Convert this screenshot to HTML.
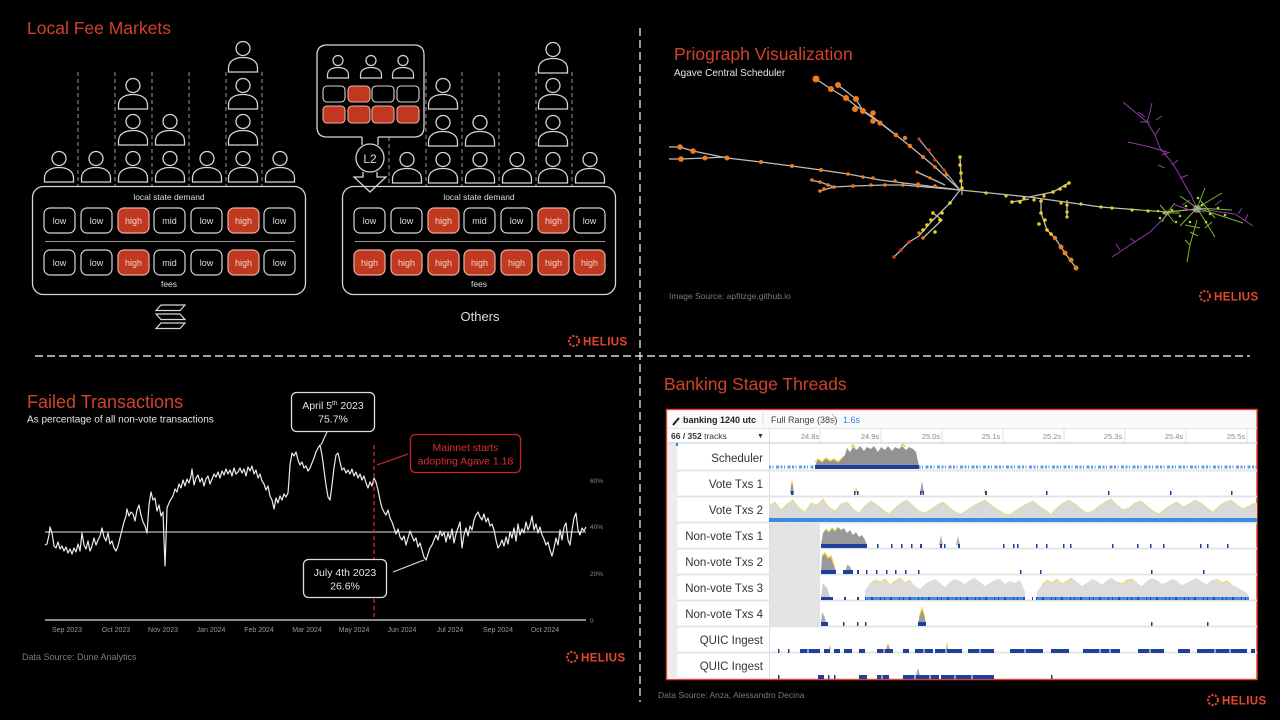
<!DOCTYPE html>
<html><head><meta charset="utf-8">
<style>
html,body{margin:0;padding:0;background:#000;}
svg{display:block;font-family:"Liberation Sans",sans-serif;}
</style></head><body>
<svg width="1280" height="720" viewBox="0 0 1280 720" xmlns="http://www.w3.org/2000/svg">
<rect width="1280" height="720" fill="#000"/>
<defs>
<g id="p" fill="none" stroke="#d6d6d6" stroke-width="1.3"><circle cx="0" cy="7.5" r="7"/><path d="M-14.5,31 L-14.5,27 C-14.5,20 -8,16.5 0,16.5 C8,16.5 14.5,20 14.5,27 L14.5,31 Z"/></g>
<g id="ps" fill="none" stroke="#d6d6d6" stroke-width="1.2"><circle cx="0" cy="5.5" r="5"/><path d="M-10.5,23 L-10.5,20 C-10.5,15 -6,12.5 0,12.5 C6,12.5 10.5,15 10.5,20 L10.5,23 Z"/></g>
</defs>

<!-- separators -->
<line x1="640" y1="28" x2="640" y2="702" stroke="#fff" stroke-width="1.2" stroke-dasharray="8,4"/>
<line x1="35" y1="356" x2="1250" y2="356" stroke="#fff" stroke-width="1.2" stroke-dasharray="8,4"/>

<!-- ============ TOP LEFT ============ -->
<text x="27" y="34" font-size="17.5" fill="#d2422a">Local Fee Markets</text>

<g stroke="#9a9a9a" stroke-width="1" stroke-dasharray="4,3">
<line x1="78" y1="72" x2="78" y2="186"/><line x1="115" y1="72" x2="115" y2="186"/><line x1="152" y1="72" x2="152" y2="186"/>
<line x1="189" y1="72" x2="189" y2="186"/><line x1="226" y1="72" x2="226" y2="186"/><line x1="262" y1="72" x2="262" y2="186"/>
<line x1="389" y1="137" x2="389" y2="186"/><line x1="426" y1="72" x2="426" y2="186"/><line x1="462" y1="72" x2="462" y2="186"/>
<line x1="499" y1="72" x2="499" y2="186"/><line x1="536" y1="72" x2="536" y2="186"/><line x1="572" y1="72" x2="572" y2="186"/>
</g>

<use href="#p" x="59" y="151"/><use href="#p" x="96" y="151"/>
<use href="#p" x="133" y="78"/><use href="#p" x="133" y="114"/><use href="#p" x="133" y="151"/>
<use href="#p" x="170" y="114"/><use href="#p" x="170" y="151"/>
<use href="#p" x="207" y="151"/>
<use href="#p" x="243" y="41"/><use href="#p" x="243" y="78"/><use href="#p" x="243" y="114"/><use href="#p" x="243" y="151"/>
<use href="#p" x="280" y="151"/>

<use href="#p" x="407" y="152"/>
<use href="#p" x="443" y="78"/><use href="#p" x="443" y="115"/><use href="#p" x="443" y="152"/>
<use href="#p" x="480" y="115"/><use href="#p" x="480" y="152"/>
<use href="#p" x="517" y="152"/>
<use href="#p" x="553" y="42"/><use href="#p" x="553" y="78"/><use href="#p" x="553" y="115"/><use href="#p" x="553" y="152"/>
<use href="#p" x="590" y="152"/>

<rect x="32.5" y="186.5" width="273" height="108" rx="11" fill="#000" stroke="#d6d6d6" stroke-width="1.3"/>
<text x="169" y="200" font-size="8.5" fill="#ddd" text-anchor="middle">local state demand</text>
<line x1="45" y1="241.5" x2="295" y2="241.5" stroke="#999" stroke-width="1"/>
<text x="169" y="287" font-size="8.5" fill="#ddd" text-anchor="middle">fees</text>
<g stroke="#d6d6d6" stroke-width="1.2">
<rect x="44" y="208" width="31" height="25" rx="6" fill="#000"/><rect x="81" y="208" width="31" height="25" rx="6" fill="#000"/>
<rect x="118" y="208" width="31" height="25" rx="6" fill="#c0381f" stroke="#e9b0a4"/><rect x="154" y="208" width="31" height="25" rx="6" fill="#000"/>
<rect x="191" y="208" width="31" height="25" rx="6" fill="#000"/><rect x="228" y="208" width="31" height="25" rx="6" fill="#c0381f" stroke="#e9b0a4"/>
<rect x="264" y="208" width="31" height="25" rx="6" fill="#000"/>
<rect x="44" y="250" width="31" height="25" rx="6" fill="#000"/><rect x="81" y="250" width="31" height="25" rx="6" fill="#000"/>
<rect x="118" y="250" width="31" height="25" rx="6" fill="#c0381f" stroke="#e9b0a4"/><rect x="154" y="250" width="31" height="25" rx="6" fill="#000"/>
<rect x="191" y="250" width="31" height="25" rx="6" fill="#000"/><rect x="228" y="250" width="31" height="25" rx="6" fill="#c0381f" stroke="#e9b0a4"/>
<rect x="264" y="250" width="31" height="25" rx="6" fill="#000"/>
</g>
<g font-size="9" text-anchor="middle" fill="#ddd">
<text x="59.5" y="224">low</text><text x="96.5" y="224">low</text><text x="133.5" y="224" fill="#f3d6cf">high</text><text x="169.5" y="224">mid</text><text x="206.5" y="224">low</text><text x="243.5" y="224" fill="#f3d6cf">high</text><text x="279.5" y="224">low</text>
<text x="59.5" y="266">low</text><text x="96.5" y="266">low</text><text x="133.5" y="266" fill="#f3d6cf">high</text><text x="169.5" y="266">mid</text><text x="206.5" y="266">low</text><text x="243.5" y="266" fill="#f3d6cf">high</text><text x="279.5" y="266">low</text>
</g>

<g fill="none" stroke="#d6d6d6" stroke-width="1.2">
<path d="M161,305 L185,305 L180,310.5 L156,310.5 Z"/>
<path d="M156,314 L180,314 L185,319.5 L161,319.5 Z"/>
<path d="M161,323 L185,323 L180,328.5 L156,328.5 Z"/>
</g>

<rect x="342.5" y="186.5" width="273" height="108" rx="11" fill="#000" stroke="#d6d6d6" stroke-width="1.3"/>
<text x="479" y="200" font-size="8.5" fill="#ddd" text-anchor="middle">local state demand</text>
<line x1="355" y1="241.5" x2="605" y2="241.5" stroke="#999" stroke-width="1"/>
<text x="479" y="287" font-size="8.5" fill="#ddd" text-anchor="middle">fees</text>
<g stroke="#d6d6d6" stroke-width="1.2">
<rect x="354" y="208" width="31" height="25" rx="6" fill="#000"/><rect x="391" y="208" width="31" height="25" rx="6" fill="#000"/>
<rect x="428" y="208" width="31" height="25" rx="6" fill="#c0381f" stroke="#e9b0a4"/><rect x="464" y="208" width="31" height="25" rx="6" fill="#000"/>
<rect x="501" y="208" width="31" height="25" rx="6" fill="#000"/><rect x="538" y="208" width="31" height="25" rx="6" fill="#c0381f" stroke="#e9b0a4"/>
<rect x="574" y="208" width="31" height="25" rx="6" fill="#000"/>
</g>
<g fill="#c0381f" stroke="#e9b0a4" stroke-width="1.2">
<rect x="354" y="250" width="31" height="25" rx="6"/><rect x="391" y="250" width="31" height="25" rx="6"/>
<rect x="428" y="250" width="31" height="25" rx="6"/><rect x="464" y="250" width="31" height="25" rx="6"/>
<rect x="501" y="250" width="31" height="25" rx="6"/><rect x="538" y="250" width="31" height="25" rx="6"/>
<rect x="574" y="250" width="31" height="25" rx="6"/>
</g>
<g font-size="9" text-anchor="middle" fill="#ddd">
<text x="369.5" y="224">low</text><text x="406.5" y="224">low</text><text x="443.5" y="224" fill="#f3d6cf">high</text><text x="479.5" y="224">mid</text><text x="516.5" y="224">low</text><text x="553.5" y="224" fill="#f3d6cf">high</text><text x="589.5" y="224">low</text>
</g>
<g font-size="9" text-anchor="middle" fill="#f3d6cf">
<text x="369.5" y="266">high</text><text x="406.5" y="266">high</text><text x="443.5" y="266">high</text><text x="479.5" y="266">high</text><text x="516.5" y="266">high</text><text x="553.5" y="266">high</text><text x="589.5" y="266">high</text>
</g>
<text x="480" y="321" font-size="13" fill="#ddd" text-anchor="middle">Others</text>

<path d="M362,137 L327,137 Q317,137 317,127 L317,55 Q317,45 327,45 L414,45 Q424,45 424,55 L424,127 Q424,137 414,137 L378,137" fill="none" stroke="#d6d6d6" stroke-width="1.3"/>
<line x1="362" y1="137" x2="362" y2="145" stroke="#d6d6d6" stroke-width="1.3"/>
<line x1="378" y1="137" x2="378" y2="145" stroke="#d6d6d6" stroke-width="1.3"/>
<use href="#ps" x="338" y="55"/><use href="#ps" x="371" y="55"/><use href="#ps" x="403" y="55"/>
<g stroke="#d6d6d6" stroke-width="1.1">
<rect x="323" y="86" width="22" height="16" rx="4" fill="#000"/><rect x="348" y="86" width="22" height="16" rx="4" fill="#c0381f" stroke="#e9b0a4"/>
<rect x="372" y="86" width="22" height="16" rx="4" fill="#000"/><rect x="397" y="86" width="22" height="16" rx="4" fill="#000"/>
<rect x="323" y="106" width="22" height="17" rx="4" fill="#c0381f" stroke="#e9b0a4"/><rect x="348" y="106" width="22" height="17" rx="4" fill="#c0381f" stroke="#e9b0a4"/>
<rect x="372" y="106" width="22" height="17" rx="4" fill="#c0381f" stroke="#e9b0a4"/><rect x="397" y="106" width="22" height="17" rx="4" fill="#c0381f" stroke="#e9b0a4"/>
</g>
<circle cx="370" cy="158" r="14" fill="#000" stroke="#d6d6d6" stroke-width="1.3"/>
<text x="370" y="163" font-size="12" fill="#ddd" text-anchor="middle">L2</text>
<path d="M363,172 L363,177 L354,177 L370,192 L386,177 L377,177 L377,172" fill="none" stroke="#d6d6d6" stroke-width="1.3"/>

<circle cx="574" cy="341" r="5" fill="none" stroke="#e4472b" stroke-width="2" stroke-dasharray="2.2,1.4"/>
<text x="583" y="345.5" font-size="11.5" font-weight="bold" fill="#e4472b" letter-spacing="0.4">HELIUS</text>

<!-- ============ TOP RIGHT ============ -->
<text x="674" y="60" font-size="17.5" fill="#d2422a">Priograph Visualization</text>
<text x="674" y="76" font-size="10" fill="#e6e6e6">Agave Central Scheduler</text>
<text x="669" y="299" font-size="8.5" fill="#7a7a7a">Image Source: apfitzge.github.io</text>
<circle cx="1205" cy="296" r="5" fill="none" stroke="#e4472b" stroke-width="2" stroke-dasharray="2.2,1.4"/>
<text x="1214" y="300.5" font-size="11.5" font-weight="bold" fill="#e4472b" letter-spacing="0.4">HELIUS</text>

<g fill="none" stroke="#bdbdbd" stroke-width="1.3">
<polyline points="669,147 680,147 693,151 727,158 761,162 792,166 821,170 848,174 880,180 920,185 960,190"/>
<polyline points="669,159 681,159 705,158 727,157"/>
<polyline points="816,79 831,89 846,98 856,106 873,117 896,135 910,146 935,167 960,190"/>
<polyline points="838,85 856,99 863,111 880,123 896,135"/>
<polyline points="810,180 820,182 834,187 853,186 885,185 903,185 960,190"/>
<polyline points="820,191 834,187"/>
<polyline points="919,139 944,170 960,190" stroke="#aaa"/>
<polyline points="917,172 945,185"/>
<polyline points="960,157 962,195"/>
<polyline points="960,190 950,203 940,213 931,222 919,236 909,242 894,257"/>
<polyline points="960,190 1029,197 1101,207 1140,210"/>
<polyline points="1029,197 1053,192 1069,183"/>
<polyline points="1041,201 1041,213 1047,230 1055,238 1065,253 1076,268"/>
<polyline points="1067,200 1067,217"/>
<polyline points="1012,202 1029,199"/>
<polyline points="933,213 942,220 923,238"/>
</g>
<polyline fill="none" stroke="#a8b840" stroke-width="1.2" points="1140,210 1167,212 1197,209"/>
<g fill="none" stroke="#8c3ca6" stroke-width="1">
<polyline points="1123,102 1135,112 1147,122 1155,135 1160,148 1170,160 1178,172 1185,185 1192,197 1197,208"/>
<polyline points="1152,103 1150,112 1147,122"/>
<polyline points="1128,142 1150,147 1167,152"/>
<polyline points="1197,208 1220,212 1235,214 1253,226"/>
<polyline points="1112,257 1130,245 1150,232 1167,215"/>
<polyline points="1140,122 1150,122"/><polyline points="1156,120 1162,116"/><polyline points="1155,135 1160,128"/>
<polyline points="1162,155 1170,152"/><polyline points="1172,165 1178,160"/><polyline points="1180,178 1188,175"/>
<polyline points="1145,117 1138,112"/><polyline points="1165,168 1158,165"/><polyline points="1190,200 1182,205"/>
<polyline points="1175,205 1190,210 1205,212"/><polyline points="1238,214 1242,208"/><polyline points="1245,220 1248,214"/>
<polyline points="1120,250 1116,244"/><polyline points="1135,242 1130,238"/><polyline points="1215,205 1222,200"/>
</g>
<g fill="none" stroke="#7cb82e" stroke-width="1">
<polyline points="1187,262 1190,245 1197,220"/>
<polyline points="1197,208 1215,237"/><polyline points="1197,208 1222,193"/><polyline points="1197,208 1232,210"/>
<polyline points="1197,208 1243,223"/><polyline points="1197,208 1180,196"/><polyline points="1197,208 1205,188"/>
<polyline points="1197,208 1180,226"/><polyline points="1185,225 1200,228"/><polyline points="1200,200 1215,218"/>
<polyline points="1167,213 1160,205"/><polyline points="1167,213 1175,203"/><polyline points="1167,213 1162,222"/>
<polyline points="1167,213 1174,222"/><polyline points="1167,213 1180,213"/><polyline points="1190,245 1185,240"/>
<polyline points="1205,228 1212,222"/><polyline points="1190,232 1198,236"/>
</g>
<circle cx="1197" cy="209" r="4" fill="#bbb" opacity="0.6"/>
<circle cx="1167" cy="213" r="2.5" fill="#bbb" opacity="0.5"/>
<g fill="#f07d1c">
<circle cx="816" cy="79" r="3.5"/><circle cx="831" cy="89" r="3"/><circle cx="838" cy="85" r="3"/><circle cx="846" cy="98" r="3"/>
<circle cx="856" cy="99" r="3"/><circle cx="855" cy="109" r="3"/><circle cx="863" cy="111" r="3"/><circle cx="873" cy="113" r="2.8"/>
<circle cx="873" cy="121" r="2.8"/><circle cx="880" cy="123" r="2.6"/><circle cx="896" cy="135" r="2.3"/><circle cx="905" cy="138" r="2.2"/>
<circle cx="910" cy="146" r="2.2"/><circle cx="923" cy="157" r="2"/><circle cx="935" cy="167" r="1.8"/><circle cx="946" cy="175" r="1.8"/>
<circle cx="680" cy="147" r="2.8"/><circle cx="693" cy="151" r="2.8"/><circle cx="681" cy="159" r="2.8"/><circle cx="705" cy="158" r="2.5"/>
<circle cx="727" cy="158" r="2.5"/><circle cx="761" cy="162" r="2"/><circle cx="792" cy="166" r="2"/><circle cx="821" cy="170" r="2"/>
<circle cx="848" cy="174" r="1.8"/><circle cx="863" cy="177" r="1.8"/><circle cx="873" cy="178" r="1.8"/><circle cx="895" cy="181" r="1.8"/>
<circle cx="918" cy="184" r="1.8"/><circle cx="935" cy="186" r="1.8"/>
<circle cx="812" cy="180" r="1.8"/><circle cx="820" cy="182" r="1.8"/><circle cx="828" cy="185" r="1.8"/><circle cx="834" cy="187" r="1.8"/>
<circle cx="820" cy="191" r="1.8"/><circle cx="824" cy="189" r="1.8"/><circle cx="853" cy="186" r="1.8"/><circle cx="871" cy="185" r="1.8"/>
<circle cx="885" cy="185" r="1.8"/><circle cx="903" cy="185" r="1.8"/><circle cx="918" cy="186" r="1.8"/>
<circle cx="917" cy="172" r="1.6"/><circle cx="930" cy="178" r="1.6"/>
<circle cx="1055" cy="238" r="2.2"/><circle cx="1061" cy="247" r="2.5"/><circle cx="1065" cy="253" r="2.5"/><circle cx="1071" cy="260" r="2.5"/><circle cx="1076" cy="268" r="2.5"/>
<circle cx="919" cy="233" r="1.7"/><circle cx="923" cy="238" r="1.7"/>
</g>
<g fill="#e0381a">
<circle cx="919" cy="139" r="1.6"/><circle cx="929" cy="150" r="1.6"/><circle cx="935" cy="160" r="1.6"/><circle cx="944" cy="170" r="1.6"/>
<circle cx="909" cy="242" r="1.7"/><circle cx="901" cy="250" r="1.7"/><circle cx="894" cy="257" r="1.7"/>
</g>
<g fill="#e8d21e">
<circle cx="960" cy="157" r="1.8"/><circle cx="960" cy="165" r="1.8"/><circle cx="961" cy="173" r="1.8"/><circle cx="961" cy="181" r="1.8"/><circle cx="962" cy="188" r="1.8"/>
<circle cx="950" cy="203" r="1.8"/><circle cx="942" cy="213" r="1.8"/><circle cx="933" cy="213" r="1.8"/><circle cx="931" cy="220" r="1.8"/>
<circle cx="940" cy="220" r="1.8"/><circle cx="927" cy="225" r="1.8"/><circle cx="923" cy="230" r="1.8"/><circle cx="935" cy="232" r="1.8"/>
<circle cx="986" cy="193" r="1.6"/><circle cx="1006" cy="196" r="1.6"/><circle cx="1024" cy="198" r="1.6"/><circle cx="1041" cy="201" r="1.8"/>
<circle cx="1061" cy="203" r="1.6"/><circle cx="1081" cy="204" r="1.6"/><circle cx="1101" cy="207" r="1.6"/><circle cx="1112" cy="208" r="1.6"/>
<circle cx="1132" cy="210" r="1.6"/><circle cx="1148" cy="211" r="1.6"/><circle cx="1020" cy="202" r="1.8"/><circle cx="1012" cy="202" r="1.8"/>
<circle cx="1053" cy="192" r="1.8"/><circle cx="1060" cy="189" r="1.8"/><circle cx="1065" cy="186" r="1.8"/><circle cx="1069" cy="183" r="1.8"/>
<circle cx="1041" cy="213" r="1.8"/><circle cx="1045" cy="220" r="1.8"/><circle cx="1039" cy="224" r="1.8"/><circle cx="1047" cy="230" r="1.8"/>
<circle cx="1051" cy="234" r="1.8"/><circle cx="1067" cy="205" r="1.6"/><circle cx="1067" cy="212" r="1.6"/><circle cx="1067" cy="217" r="1.6"/>
<circle cx="1034" cy="200" r="1.6"/><circle cx="1044" cy="196" r="1.6"/>
</g>
<g fill="#b6d034">
<circle cx="1164" cy="213" r="1.3"/><circle cx="1172" cy="210" r="1.3"/><circle cx="1180" cy="216" r="1.3"/><circle cx="1186" cy="206" r="1.3"/>
<circle cx="1202" cy="205" r="1.3"/><circle cx="1210" cy="214" r="1.3"/><circle cx="1218" cy="208" r="1.3"/><circle cx="1206" cy="222" r="1.3"/>
<circle cx="1190" cy="222" r="1.3"/><circle cx="1176" cy="222" r="1.3"/><circle cx="1225" cy="215" r="1.3"/><circle cx="1198" cy="198" r="1.3"/>
<circle cx="1158" cy="211" r="1.3"/><circle cx="1160" cy="218" r="1.3"/>
</g>

<!-- ============ BOTTOM LEFT ============ -->
<text x="27" y="408" font-size="18" fill="#d2422a">Failed Transactions</text>
<text x="27" y="422.5" font-size="10" fill="#e6e6e6">As percentage of all non-vote transactions</text>

<line x1="45" y1="532" x2="586" y2="532" stroke="#b8b8b8" stroke-width="1.2"/>
<line x1="45" y1="620" x2="586" y2="620" stroke="#8a8a8a" stroke-width="2"/>
<g font-size="6.5" fill="#8a8a8a">
<text x="590" y="483">60%</text><text x="590" y="529">40%</text><text x="590" y="576">20%</text><text x="590" y="623">0</text>
</g>
<g font-size="7" fill="#9a9a9a" text-anchor="middle">
<text x="67" y="632">Sep 2023</text><text x="116" y="632">Oct 2023</text><text x="163" y="632">Nov 2023</text><text x="211" y="632">Jan 2024</text>
<text x="259" y="632">Feb 2024</text><text x="307" y="632">Mar 2024</text><text x="354" y="632">May 2024</text><text x="402" y="632">Jun 2024</text>
<text x="450" y="632">Jul 2024</text><text x="498" y="632">Sep 2024</text><text x="545" y="632">Oct 2024</text>
</g>

<polyline fill="none" stroke="#ececec" stroke-width="1.2" stroke-linejoin="round" points="45,545 47,544 49,535 50,527 52,533 54,546 56,548 58,542 60,549 62,546 64,551 66,547 68,553 70,549 72,554 74,548 76,552 78,544 80,551 82,533 84,545 86,549 88,541 90,551 92,546 94,538 96,545 98,540 100,536 102,528 104,537 106,541 108,533 110,544 112,541 114,548 116,551 118,546 120,538 122,530 124,522 126,516 127,509 129,516 131,512 133,514 135,521 137,510 139,505 141,515 143,522 145,526 147,533 149,505 151,492 153,500 155,498 157,511 159,505 161,516 163,512 164,540 165,566 166,540 167,508 169,503 171,499 173,496 175,489 177,492 179,484 181,488 183,480 185,486 187,479 189,483 191,476 192,469 194,485 196,478 198,475 200,482 202,478 204,486 206,479 208,476 210,484 212,479 214,474 216,477 218,472 220,478 222,471 224,475 226,469 228,474 230,470 232,476 234,468 236,474 238,472 240,468 242,473 244,469 246,476 248,467 250,471 252,466 254,474 256,470 258,478 260,474 262,481 264,484 266,490 268,486 270,496 272,500 274,509 276,498 278,503 280,496 282,500 284,494 286,497 288,493 289,480 290,465 292,453 294,456 296,452 298,460 300,465 302,462 304,468 306,466 308,471 310,468 312,463 314,458 316,452 318,448 320,445 322,455 324,470 326,485 328,497 330,500 332,485 334,468 336,455 338,453 340,462 342,470 344,468 346,473 348,470 350,474 352,469 354,476 356,472 358,478 360,474 362,480 364,476 366,483 368,488 370,482 372,486 374,478 376,482 378,490 380,500 382,508 384,512 386,515 388,510 390,518 392,522 394,528 396,534 398,529 400,537 402,540 404,536 406,545 408,538 410,531 412,536 414,541 416,538 418,547 420,543 422,550 424,557 426,560 428,554 430,548 432,545 434,540 436,535 438,540 440,531 442,536 444,532 446,542 448,533 450,539 452,529 454,543 456,534 458,528 460,522 462,548 464,535 466,528 468,536 470,526 472,530 474,520 476,515 478,512 480,517 482,520 484,514 486,522 488,518 490,526 492,524 494,530 496,540 498,548 500,545 502,540 504,546 506,537 508,544 510,532 512,538 514,528 516,541 518,524 520,535 522,529 524,533 526,522 528,530 530,525 532,516 534,530 536,524 538,533 540,527 542,535 544,539 546,545 548,542 550,550 552,556 554,548 556,538 558,545 560,530 562,540 564,527 566,523 568,540 570,545 572,530 574,518 576,513 578,530 580,535 582,528 584,531 586,527"/>

<line x1="374" y1="445" x2="374" y2="620" stroke="#e02222" stroke-width="1.3" stroke-dasharray="4,3"/>
<line x1="408" y1="454" x2="377" y2="465" stroke="#d02222" stroke-width="1.2"/>
<rect x="410.5" y="434.5" width="110" height="38" rx="5" fill="#000" stroke="#c82222" stroke-width="1.3"/>
<text x="465.5" y="451" font-size="10.5" fill="#d83030" text-anchor="middle">Mainnet starts</text>
<text x="465.5" y="464.5" font-size="10.5" fill="#d83030" text-anchor="middle">adopting Agave 1.18</text>

<line x1="327" y1="432" x2="321" y2="445" stroke="#ddd" stroke-width="1.2"/>
<rect x="291.5" y="392.5" width="83" height="39" rx="5" fill="#000" stroke="#ddd" stroke-width="1.3"/>
<text x="333" y="409" font-size="10.5" fill="#e6e6e6" text-anchor="middle">April 5<tspan font-size="6.5" dy="-4">th</tspan><tspan dy="4"> 2023</tspan></text>
<text x="333" y="422.5" font-size="10.5" fill="#e6e6e6" text-anchor="middle">75.7%</text>

<line x1="393" y1="572" x2="424" y2="560" stroke="#ddd" stroke-width="1.2"/>
<rect x="303.5" y="559.5" width="83" height="38" rx="5" fill="#000" stroke="#ddd" stroke-width="1.3"/>
<text x="345" y="576" font-size="10.5" fill="#e6e6e6" text-anchor="middle">July 4th 2023</text>
<text x="345" y="589.5" font-size="10.5" fill="#e6e6e6" text-anchor="middle">26.6%</text>

<text x="22" y="660" font-size="9" fill="#7a7a7a">Data Source: Dune Analytics</text>
<circle cx="572" cy="657" r="5" fill="none" stroke="#e4472b" stroke-width="2" stroke-dasharray="2.2,1.4"/>
<text x="581" y="661.5" font-size="11.5" font-weight="bold" fill="#e4472b" letter-spacing="0.4">HELIUS</text>

<!-- ============ BOTTOM RIGHT ============ -->
<text x="664" y="390" font-size="17.5" fill="#d2422a">Banking Stage Threads</text>
<text x="658" y="698" font-size="8.5" fill="#7a7a7a">Data Source: Anza, Alessandro Decina</text>
<circle cx="1213" cy="700" r="5" fill="none" stroke="#e4472b" stroke-width="2" stroke-dasharray="2.2,1.4"/>
<text x="1222" y="704.5" font-size="11.5" font-weight="bold" fill="#e4472b" letter-spacing="0.4">HELIUS</text>

<rect x="666.5" y="409.5" width="590.5" height="270" fill="#fff" stroke="#e0452b" stroke-width="1.5"/>
<rect x="667.3" y="410.3" width="589" height="18" fill="#fafafa"/>
<path d="M673,425 L679,418" stroke="#222" stroke-width="2"/>
<text x="683" y="423" font-size="9" font-weight="bold" fill="#222">banking 1240 utc</text>
<line x1="763" y1="413" x2="763" y2="426" stroke="#ddd"/>
<text x="771" y="423" font-size="9" fill="#444">Full Range (38s)</text>
<path d="M832,414 L836,419 L832,424" fill="none" stroke="#bbb"/>
<text x="843" y="423" font-size="9" fill="#2f7fe0">1.6s</text>
<line x1="667" y1="428.5" x2="1257" y2="428.5" stroke="#e4e4e4"/>
<text x="671" y="439" font-size="8.5" fill="#333"><tspan font-weight="bold">66 / 352</tspan> tracks</text>
<text x="757" y="438" font-size="7" fill="#333">▼</text>
<g font-size="7.5" fill="#888" text-anchor="middle">
<text x="810" y="439">24.8s</text><text x="870" y="439">24.9s</text><text x="931" y="439">25.0s</text><text x="991" y="439">25.1s</text>
<text x="1052" y="439">25.2s</text><text x="1113" y="439">25.3s</text><text x="1174" y="439">25.4s</text><text x="1236" y="439">25.5s</text>
</g>
<g stroke="#e2e2e2">
<line x1="820" y1="429" x2="820" y2="442"/><line x1="881" y1="429" x2="881" y2="442"/><line x1="942" y1="429" x2="942" y2="442"/>
<line x1="1003" y1="429" x2="1003" y2="442"/><line x1="1064" y1="429" x2="1064" y2="442"/><line x1="1125" y1="429" x2="1125" y2="442"/>
<line x1="1186" y1="429" x2="1186" y2="442"/><line x1="1247" y1="429" x2="1247" y2="442"/>
</g>
<line x1="667" y1="443" x2="1257" y2="443" stroke="#d2d9e6" stroke-width="1.5"/>
<rect x="667.3" y="444" width="10" height="235" fill="#ececec"/>
<rect x="676" y="443" width="2" height="3" fill="#3a7fe0"/>
<rect x="769" y="522" width="51" height="104" fill="#e3e3e3"/>
<line x1="769.5" y1="428" x2="769.5" y2="679" stroke="#dcdcdc"/>
<g stroke="#e4e4e4" stroke-width="2">
<line x1="677" y1="470.5" x2="1257" y2="470.5"/><line x1="677" y1="496.5" x2="1257" y2="496.5"/><line x1="677" y1="522.5" x2="1257" y2="522.5"/>
<line x1="677" y1="548.5" x2="1257" y2="548.5"/><line x1="677" y1="574.5" x2="1257" y2="574.5"/><line x1="677" y1="600.5" x2="1257" y2="600.5"/>
<line x1="677" y1="626.5" x2="1257" y2="626.5"/><line x1="677" y1="652.5" x2="1257" y2="652.5"/>
</g>
<g font-size="11.5" fill="#333" text-anchor="end">
<text x="763" y="462">Scheduler</text><text x="763" y="488">Vote Txs 1</text><text x="763" y="514">Vote Txs 2</text>
<text x="763" y="540">Non-vote Txs 1</text><text x="763" y="566">Non-vote Txs 2</text><text x="763" y="592">Non-vote Txs 3</text>
<text x="763" y="618">Non-vote Txs 4</text><text x="763" y="644">QUIC Ingest</text><text x="763" y="670">QUIC Ingest</text>
</g>

<polygon fill="#929292" points="815,466 818,459 822,462 826,458 830,461 834,459 838,462 842,458 845,455 847,448 850,452 853,447 857,450 860,446 864,451 867,447 871,449 874,446 878,452 881,447 885,450 888,446 892,451 895,447 899,449 902,446 906,450 909,447 913,449 916,452 919,466"/>
<polyline fill="none" stroke="#f0d22a" stroke-width="1.2" points="815,462 818,459 822,462 826,458 830,461 834,459 838,462 842,458"/>
<path d="M851,447 l2,-2 l2,3 M901,446 l2,-2 l2,3" stroke="#f0d22a" stroke-width="1.5" fill="none"/>
<line x1="769" y1="467" x2="1257" y2="467" stroke="#5c9cea" stroke-width="3" stroke-dasharray="2,1.5,1,2.5,3,1.5"/>
<rect x="815" y="465" width="104" height="4" fill="#1f3f9e"/>

<g fill="#9a9a9a"><polygon points="790,493 792,480 794,493"/><polygon points="920,493 922,481 924,493"/></g>
<g fill="#f0d22a"><polygon points="791,484 792,480 793,484"/><polygon points="855,493 856,487 858,493"/><polygon points="984,493 985,488 986,493"/></g>
<g fill="#1f3f9e">
<rect x="791" y="491" width="2.5" height="4"/><rect x="854" y="491" width="1.5" height="4"/><rect x="857" y="491" width="1.5" height="4"/>
<rect x="920" y="491" width="1.5" height="4"/><rect x="922.5" y="491" width="1.5" height="4"/><rect x="985" y="491" width="2" height="4"/>
<rect x="1046" y="491" width="1.5" height="4"/><rect x="1108" y="491" width="1.5" height="4"/><rect x="1170" y="491" width="1.5" height="4"/><rect x="1231" y="491" width="1.5" height="4"/>
</g>

<polygon fill="#d9d9d9" points="769,518 769,506 775,502 781,510 787,504 793,500 799,508 805,512 811,503 817,505 823,499 829,507 835,511 841,504 847,502 853,509 859,513 865,506 871,501 877,505 883,510 889,514 895,508 901,503 907,500 913,506 919,511 925,513 931,509 937,505 943,502 949,507 955,512 961,514 967,510 973,506 979,503 985,500 991,505 997,509 1003,513 1009,515 1015,511 1021,507 1027,504 1033,501 1039,506 1045,510 1051,514 1057,508 1063,503 1069,500 1075,504 1081,509 1087,513 1093,511 1099,506 1105,502 1111,499 1117,505 1123,510 1129,508 1135,503 1141,501 1147,506 1153,511 1159,514 1165,509 1171,505 1177,502 1183,507 1189,504 1195,500 1201,503 1207,508 1213,512 1219,506 1225,502 1231,500 1237,505 1243,509 1249,506 1255,503 1257,503 1257,518"/>
<polyline fill="none" stroke="#f0d22a" stroke-width="1" opacity="0.5" points="769,506 775,502 781,510 787,504 793,500 799,508 805,512 811,503 817,505 823,499 829,507 835,511 841,504 847,502 853,509 859,513 865,506 871,501 877,505 883,510 889,514 895,508 901,503 907,500 913,506 919,511 925,513 931,509 937,505 943,502 949,507 955,512 961,514 967,510 973,506 979,503 985,500 991,505 997,509 1003,513 1009,515 1015,511 1021,507 1027,504 1033,501 1039,506 1045,510 1051,514 1057,508 1063,503 1069,500 1075,504 1081,509 1087,513 1093,511 1099,506 1105,502 1111,499 1117,505 1123,510 1129,508 1135,503 1141,501 1147,506 1153,511 1159,514 1165,509 1171,505 1177,502 1183,507 1189,504 1195,500 1201,503 1207,508 1213,512 1219,506 1225,502 1231,500 1237,505 1243,509 1249,506 1255,503"/>
<rect x="769" y="518" width="488" height="4" fill="#3c8de6"/>
<line x1="769" y1="520" x2="1257" y2="520" stroke="#2a6fd0" stroke-width="1" stroke-dasharray="1,6,2,9"/>

<polygon fill="#999" points="821,545 823,533 826,529 829,532 832,528 835,531 838,527 841,530 844,528 847,533 850,530 853,535 856,532 859,537 862,535 865,540 867,545"/>
<polyline fill="none" stroke="#f0d22a" stroke-width="1" points="826,529 829,532 832,528 835,531 838,527"/>
<rect x="821" y="544" width="46" height="4" fill="#1f3f9e"/>
<g fill="#b0b0b0"><polygon points="939,545 941,535 943,545"/><polygon points="956,545 958,536 960,545"/></g>
<g fill="#1f3f9e">
<rect x="877" y="544" width="1.5" height="4"/><rect x="891" y="544" width="1.5" height="4"/><rect x="901" y="544" width="1.5" height="4"/><rect x="911" y="544" width="1.5" height="4"/>
<rect x="920" y="544" width="2" height="4"/><rect x="940" y="544" width="2" height="4"/><rect x="944" y="544" width="1.5" height="4"/><rect x="958" y="544" width="2" height="4"/>
<rect x="1003" y="544" width="1.5" height="4"/><rect x="1013" y="544" width="1.5" height="4"/><rect x="1017" y="544" width="1.5" height="4"/><rect x="1036" y="544" width="1.5" height="4"/>
<rect x="1046" y="544" width="1.5" height="4"/><rect x="1063" y="544" width="1.5" height="4"/><rect x="1070" y="544" width="1.5" height="4"/><rect x="1112" y="544" width="1.5" height="4"/>
<rect x="1137" y="544" width="1.5" height="4"/><rect x="1150" y="544" width="1.5" height="4"/><rect x="1163" y="544" width="1.5" height="4"/><rect x="1200" y="544" width="1.5" height="4"/>
<rect x="1207" y="544" width="1.5" height="4"/><rect x="1227" y="544" width="1.5" height="4"/>
</g>

<polygon fill="#999" points="821,572 822,556 825,553 828,558 831,556 834,565 836,572"/>
<polyline fill="none" stroke="#f0d22a" stroke-width="1.3" points="822,556 825,553 828,558 831,556 834,565"/>
<polygon fill="#aaa" points="845,572 847,565 850,566 852,572"/>
<g fill="#1f3f9e">
<rect x="821" y="570" width="15" height="4"/><rect x="843" y="570" width="10" height="4"/><rect x="857" y="570" width="2" height="4"/>
<rect x="866" y="570" width="1.5" height="4"/><rect x="876" y="570" width="1.5" height="4"/><rect x="886" y="570" width="1.5" height="4"/>
<rect x="895" y="570" width="1.5" height="4"/><rect x="905" y="570" width="1.5" height="4"/><rect x="918" y="570" width="1.5" height="4"/>
<rect x="1020" y="570" width="1.5" height="4"/><rect x="1040" y="570" width="1.5" height="4"/><rect x="1151" y="570" width="1.5" height="4"/><rect x="1203" y="570" width="1.5" height="4"/>
</g>

<polygon fill="#dcdcdc" points="865,597 865,590 870,584 875,580 880,582 885,579 890,585 895,581 900,578 905,583 910,580 915,586 920,589 925,584 930,581 935,579 940,583 945,587 950,582 955,579 960,581 965,584 970,580 975,578 980,582 985,586 990,583 995,580 1000,579 1005,584 1010,581 1015,583 1020,580 1025,592 1025,597"/>
<polygon fill="#dcdcdc" points="1037,597 1037,592 1042,585 1047,580 1052,583 1057,579 1062,584 1067,581 1072,578 1077,582 1082,586 1087,583 1092,579 1097,581 1102,585 1107,580 1112,578 1117,582 1122,584 1127,580 1132,579 1137,583 1142,586 1147,581 1152,578 1157,580 1162,584 1167,582 1172,579 1177,581 1182,585 1187,583 1192,580 1197,578 1202,582 1207,584 1212,580 1217,579 1222,583 1227,581 1232,585 1237,587 1242,590 1247,593 1249,597"/>
<g fill="none" stroke="#f0d22a" stroke-width="1" opacity="0.7">
<polyline points="870,584 875,580 880,582 885,579 890,585 895,581 900,578 905,583 910,580"/>
<polyline points="1042,585 1047,580 1052,583 1057,579 1062,584 1067,581 1072,578"/>
<polyline points="1117,582 1122,584 1127,580 1132,579 1137,583"/>
<polyline points="1217,579 1222,583 1227,581 1232,585"/>
</g>
<polygon fill="#ccc" points="821,597 823,583 827,588 830,597"/>
<rect x="865" y="597" width="160" height="3" fill="#3c8de6"/>
<rect x="1037" y="597" width="212" height="3" fill="#3c8de6"/>
<line x1="865" y1="598.5" x2="1249" y2="598.5" stroke="#1f4fb5" stroke-width="3" stroke-dasharray="1,5,2,7,1,3"/>
<g fill="#1f3f9e"><rect x="821" y="597" width="12" height="3"/><rect x="844" y="597" width="2" height="3"/><rect x="857" y="597" width="2" height="3"/></g>

<polygon fill="#aaa" points="821,623 822,612 825,618 826,623"/>
<polygon fill="#999" points="918,623 922,608 926,623"/>
<polyline fill="none" stroke="#f0d22a" stroke-width="1" points="919,618 922,608 925,618"/>
<g fill="#1f3f9e">
<rect x="821" y="622" width="7" height="4"/><rect x="843" y="622" width="1.5" height="4"/><rect x="857" y="622" width="1.5" height="4"/>
<rect x="865" y="622" width="1.5" height="4"/><rect x="918" y="622" width="8" height="4"/><rect x="1151" y="622" width="1.5" height="4"/><rect x="1207" y="622" width="1.5" height="4"/>
</g>

<g fill="#1f3f9e">
<rect x="778" y="649" width="1.5" height="4"/><rect x="788" y="649" width="1.5" height="4"/><rect x="800" y="649" width="20" height="4"/>
<rect x="824" y="649" width="6" height="4"/><rect x="834" y="649" width="6" height="4"/><rect x="844" y="649" width="8" height="4"/>
<rect x="859" y="649" width="6" height="4"/><rect x="877" y="649" width="16" height="4"/><rect x="903" y="649" width="6" height="4"/>
<rect x="915" y="649" width="18" height="4"/><rect x="935" y="649" width="27" height="4"/><rect x="968" y="649" width="26" height="4"/>
<rect x="1010" y="649" width="33" height="4"/><rect x="1051" y="649" width="18" height="4"/><rect x="1083" y="649" width="37" height="4"/>
<rect x="1138" y="649" width="26" height="4"/><rect x="1178" y="649" width="12" height="4"/><rect x="1197" y="649" width="50" height="4"/>
<rect x="1251" y="649" width="4" height="4"/>
</g>
<g stroke="#fff" stroke-width="1">
<line x1="808" y1="649" x2="808" y2="653"/><line x1="884" y1="649" x2="884" y2="653"/><line x1="924" y1="649" x2="924" y2="653"/><line x1="946" y1="649" x2="946" y2="653"/>
<line x1="980" y1="649" x2="980" y2="653"/><line x1="1025" y1="649" x2="1025" y2="653"/><line x1="1100" y1="649" x2="1100" y2="653"/><line x1="1110" y1="649" x2="1110" y2="653"/>
<line x1="1150" y1="649" x2="1150" y2="653"/><line x1="1215" y1="649" x2="1215" y2="653"/><line x1="1230" y1="649" x2="1230" y2="653"/>
</g>
<g fill="#c8b060"><polygon points="886,649 888,643 890,649"/><polygon points="946,649 947,642 948,649"/><polygon points="829,649 830,645 831,649"/></g>

<g fill="#1f3f9e">
<rect x="778" y="675" width="1.5" height="4"/><rect x="818" y="675" width="6" height="4"/><rect x="828" y="675" width="1.5" height="4"/>
<rect x="834" y="675" width="1.5" height="4"/><rect x="859" y="675" width="8" height="4"/><rect x="877" y="675" width="12" height="4"/>
<rect x="903" y="675" width="36" height="4"/><rect x="941" y="675" width="53" height="4"/><rect x="1051" y="675" width="1.5" height="4"/>
</g>
<g stroke="#fff" stroke-width="1">
<line x1="882" y1="675" x2="882" y2="679"/><line x1="915" y1="675" x2="915" y2="679"/><line x1="930" y1="675" x2="930" y2="679"/><line x1="955" y1="675" x2="955" y2="679"/><line x1="972" y1="675" x2="972" y2="679"/>
</g>
<polygon fill="#aaa" points="916,675 918,668 920,675"/>
</svg>
</body></html>
